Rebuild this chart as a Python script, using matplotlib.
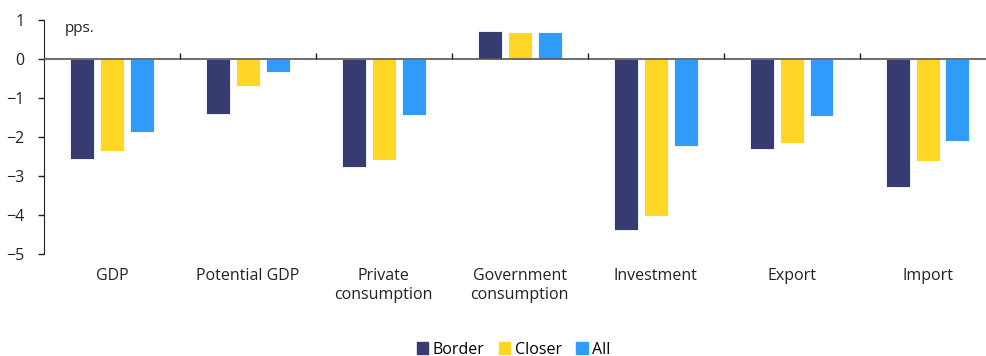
import numpy as np
import matplotlib.pyplot as plt
from matplotlib.patches import Patch

plt.rcParams['font.family'] = ['Open Sans', 'DejaVu Sans']

categories = ['GDP', 'Potential GDP', 'Private\nconsumption', 'Government\nconsumption',
              'Investment', 'Export', 'Import']
border = [-2.58, -1.42, -2.77, 0.72, -4.39, -2.31, -3.29]
closer = [-2.36, -0.70, -2.59, 0.68, -4.04, -2.16, -2.62]
all_ = [-1.88, -0.35, -1.43, 0.68, -2.23, -1.47, -2.12]
series = ['Border', 'Closer', 'All']
colors = ['#363b72', '#ffd625', '#309bfa']

fig = plt.figure(figsize=(9.86, 3.56), dpi=100)
ax = fig.add_axes([0.0446, 0.2865, 0.9554, 0.6585])

x = np.arange(len(categories))
w = 0.176
step = 0.22
for i, (vals, c) in enumerate(zip([border, closer, all_], colors)):
    ax.bar(x + (i - 1) * step, vals, w, color=c, edgecolor='#ffffff', linewidth=0.6, zorder=2)

ax.set_ylim(-5, 1)
ax.set_xlim(-0.5, 6.43)
ax.set_yticks(np.arange(-5, 2, 1))
ax.tick_params(axis='y', direction='out', length=4, width=1, labelsize=11.5, colors='#222222', pad=10)
ax.set_xticks(x)
ax.set_xticklabels(categories, fontsize=11.5, color='#222222', linespacing=1.25)
ax.tick_params(axis='x', length=0, pad=10)

for s in ['top', 'right', 'bottom']:
    ax.spines[s].set_visible(False)
ax.spines['left'].set_color('#222222')

# zero line with small separator ticks pointing up
ax.axhline(0, color='#555555', lw=1.2, zorder=3)
ax.vlines(x[:-1] + 0.5, 0, 0.14, color='#222222', lw=1, zorder=3)

ax.text(0.022, 0.995, 'pps.', transform=ax.transAxes, fontsize=11, va='top', color='#222222')

handles = [Patch(color=c) for c in colors]
fig.legend(handles, series, loc='lower center', bbox_to_anchor=(0.521, -0.045), ncol=3, frameon=False,
           fontsize=11.5, handlelength=0.7, handleheight=0.7, handletextpad=0.3, columnspacing=0.9)

fig.savefig('out.png', dpi=100)
plt.close(fig)
